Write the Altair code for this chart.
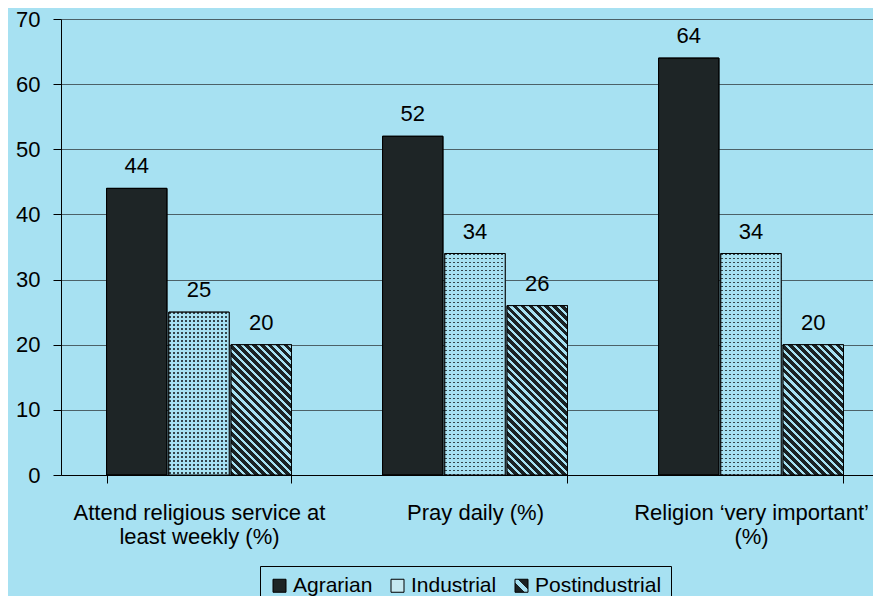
import math
import altair as alt
import pandas as pd

# ---------------- data ----------------
categories = [
    "Attend religious service at|least weekly (%)",
    "Pray daily (%)",
    "Religion \u2018very important\u2019|(%)",
]
series = ["Agrarian", "Industrial", "Postindustrial"]
agrarian = [44, 52, 64]
industrial = [25, 34, 34]
postindustrial = [20, 26, 20]
y_ticks = [0, 10, 20, 30, 40, 50, 60, 70]

# ---------------- style / layout ----------------
BG = "#a7e1f2"
DARK = "#1e2526"
STRIPE = "#1b2224"
FONT = "Liberation Sans"
PLOT_W, PLOT_H = 812, 456
X_RANGE = 828
Y_MAX = 70
PAD_IN, PAD_OUT, OFF_PAD = 0.33, 0.165, 0.03

step = X_RANGE / (len(categories) - PAD_IN + 2 * PAD_OUT)
bandw = step * (1 - PAD_IN)
bar_w = bandw / (len(series) - OFF_PAD) * (1 - OFF_PAD)

rows = []
for s, vals in zip(series, [agrarian, industrial, postindustrial]):
    for c, v in zip(categories, vals):
        rows.append({"category": c, "series": s, "value": v, "label": str(v)})
df = pd.DataFrame(rows)


def px_h(v):
    return v / Y_MAX * PLOT_H


def stripe_stops(n_period, frac, c1, c2):
    stops = []
    k = 0
    while True:
        a = k * n_period
        b = a + frac * n_period
        e = (k + 1) * n_period
        for off, col in ((a, c1), (min(b, 1.0), c1), (min(b, 1.0), c2), (min(e, 1.0), c2)):
            if off <= 1.0:
                stops.append({"offset": round(off, 5), "color": col})
        if e >= 1.0:
            break
        k += 1
    return stops


def diag_gradient(h, w=bar_w, period=5.6, frac=0.58):
    L = (w * w + h * h) / (w * math.sqrt(2))
    return {
        "gradient": "linear",
        "x1": 0, "y1": 1, "x2": 1, "y2": round(1 - h / w, 5),
        "stops": stripe_stops(period / L, frac, STRIPE, BG),
    }


def vstripe_gradient(w=bar_w, period=4.0, frac=0.45):
    return {
        "gradient": "linear", "x1": 0, "y1": 0, "x2": 1, "y2": 0,
        "stops": stripe_stops(period / w, frac, "#34454b", BG),
    }


def hmask_gradient(h, period=4.0, frac=0.45):
    return {
        "gradient": "linear", "x1": 0, "y1": 0, "x2": 0, "y2": 1,
        "stops": stripe_stops(period / h, frac, "rgba(167,225,242,0)", BG),
    }


def fill_by_value(values, make):
    uniq = list(dict.fromkeys(values))
    d = {"value": make(px_h(uniq[0]))}
    if len(uniq) > 1:
        d["condition"] = [
            {"test": f"datum.value == {v}", "value": make(px_h(v))} for v in uniq[1:]
        ]
    return d


# legend swatch for Postindustrial: dark square with one light diagonal band
legend_post_expr = (
    "{gradient: 'linear', x1: 0, y1: 1, x2: 1, y2: 0, stops: ["
    f"{{offset: 0, color: '{STRIPE}'}}, {{offset: 0.38, color: '{STRIPE}'}}, "
    f"{{offset: 0.38, color: '{BG}'}}, {{offset: 0.62, color: '{BG}'}}, "
    f"{{offset: 0.62, color: '{STRIPE}'}}, {{offset: 1, color: '{STRIPE}'}}]}}"
)

x_enc = alt.X(
    "category:N",
    scale=alt.Scale(domain=categories, range=[0, X_RANGE],
                    paddingInner=PAD_IN, paddingOuter=PAD_OUT),
    axis=alt.Axis(title=None, labelAngle=0, tickBand="extent", tickSize=8,
                  labelPadding=19, labelFontSize=22, labelFont=FONT,
                  labelColor="black", labelLimit=0, labelLineHeight=24,
                  labelExpr="split(datum.label, '|')", domainColor="black",
                  tickColor="black", grid=False),
)
xo_enc = alt.XOffset("series:N", scale=alt.Scale(domain=series, paddingInner=OFF_PAD, paddingOuter=0))
y_enc = alt.Y(
    "value:Q", stack=None,
    scale=alt.Scale(domain=[0, Y_MAX], nice=False),
    axis=alt.Axis(title=None, values=y_ticks, tickSize=8, labelPadding=13,
                  labelFontSize=22, labelFont=FONT, labelColor="black",
                  domainColor="black", tickColor="black", grid=True,
                  gridColor="#3c4a50", gridWidth=1, gridOpacity=0.85),
)

base = alt.Chart(df)

bars = base.mark_bar(stroke="black", strokeWidth=1).encode(
    x=x_enc, xOffset=xo_enc, y=y_enc,
    color=alt.Color(
        "series:N",
        scale=alt.Scale(domain=series,
                        range=[DARK, "#c6e9f1", alt.ExprRef(legend_post_expr)]),
        legend=alt.Legend(
            title=None, orient="none", legendX=199, legendY=547,
            direction="horizontal", symbolType="square", symbolSize=169,
            symbolStrokeColor="black", symbolStrokeWidth=1, symbolOpacity=1,
            labelFontSize=21, labelFont=FONT, labelColor="black",
            labelOffset=3, columnPadding=14, padding=9,
            strokeColor="black", fillColor=BG, cornerRadius=0,
        ),
    ),
)

ind_a = base.transform_filter(alt.datum.series == "Industrial").mark_bar(
    fill=vstripe_gradient(), strokeWidth=0
).encode(x=x_enc, xOffset=xo_enc, y=y_enc)

ind_b = base.transform_filter(alt.datum.series == "Industrial").mark_bar(
    strokeWidth=0
).encode(x=x_enc, xOffset=xo_enc, y=y_enc, fill=fill_by_value(industrial, hmask_gradient))

post = base.transform_filter(alt.datum.series == "Postindustrial").mark_bar(
    strokeWidth=0
).encode(x=x_enc, xOffset=xo_enc, y=y_enc, fill=fill_by_value(postindustrial, diag_gradient))

outline = base.mark_bar(fillOpacity=0, stroke="black", strokeWidth=1).encode(
    x=x_enc, xOffset=xo_enc, y=y_enc
)

labels = base.mark_text(
    dy=-15, baseline="alphabetic", fontSize=22, font=FONT, color="black"
).encode(x=x_enc, xOffset=xo_enc, y=y_enc, text="label:N")

chart = alt.layer(bars, ind_a, ind_b, post, outline, labels).properties(
    width=PLOT_W, height=PLOT_H,
    autosize=alt.AutoSizeParams(type="none"),
    padding={"left": 53, "top": 11, "right": 0, "bottom": 121},
    background=BG,
).configure_view(stroke=None).configure_axis(
    domainWidth=1, tickWidth=1
)

chart.save("out.html", embed_options={"renderer": "svg", "actions": False})
